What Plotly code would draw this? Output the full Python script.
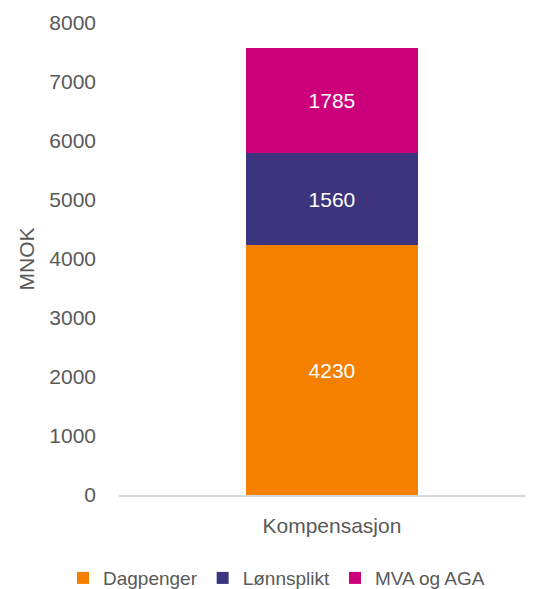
import plotly.graph_objects as go

categories = ["Kompensasjon"]
series_names = ["Dagpenger", "Lønnsplikt", "MVA og AGA"]
dagpenger = [4230]
lonnsplikt = [1560]
mva_aga = [1785]
y_ticks = [0, 1000, 2000, 3000, 4000, 5000, 6000, 7000, 8000]

colors = ["#F58000", "#3C357E", "#CC007A"]
FONT = "Liberation Sans"
GREY = "#595959"

fig = go.Figure()
for name, vals, col in zip(series_names, [dagpenger, lonnsplikt, mva_aga], colors):
    fig.add_trace(go.Bar(
        x=categories, y=vals, name=name,
        marker=dict(color=col, line=dict(width=0)),
        width=0.414,
        text=vals, texttemplate="%{y}", textposition="inside",
        insidetextanchor="middle", textangle=0,
        textfont=dict(family=FONT, size=21, color="white"),
        constraintext="none",
    ))

# page body has an 8px margin, so the figure is 8px smaller than the window
fig.update_layout(
    barmode="stack",
    width=526, height=581,
    margin=dict(l=111, r=0, t=15, b=94, autoexpand=False),
    paper_bgcolor="white", plot_bgcolor="white",
    font=dict(family=FONT, size=21, color=GREY),
    showlegend=True,
    legend=dict(orientation="h", x=-0.135, xanchor="left", y=-0.176, yanchor="middle",
                font=dict(family=FONT, size=19, color=GREY), itemwidth=30,
                traceorder="normal"),
    xaxis=dict(type="category", range=[-0.513, 0.487], showgrid=False, automargin=False,
               showline=True, linecolor="#D9D9D9", linewidth=1.5,
               ticks="", tickfont=dict(family=FONT, size=21, color=GREY),
               ticklabelstandoff=11, zeroline=False),
    yaxis=dict(range=[0, 8000], tickvals=y_ticks, showgrid=False, zeroline=False,
               automargin=False,
               showline=False, ticks="", ticklabelstandoff=22,
               tickfont=dict(family=FONT, size=21, color=GREY),
               title=dict(text="MNOK", font=dict(family=FONT, size=21, color=GREY), standoff=8)),
)

fig.write_html("out.html")
